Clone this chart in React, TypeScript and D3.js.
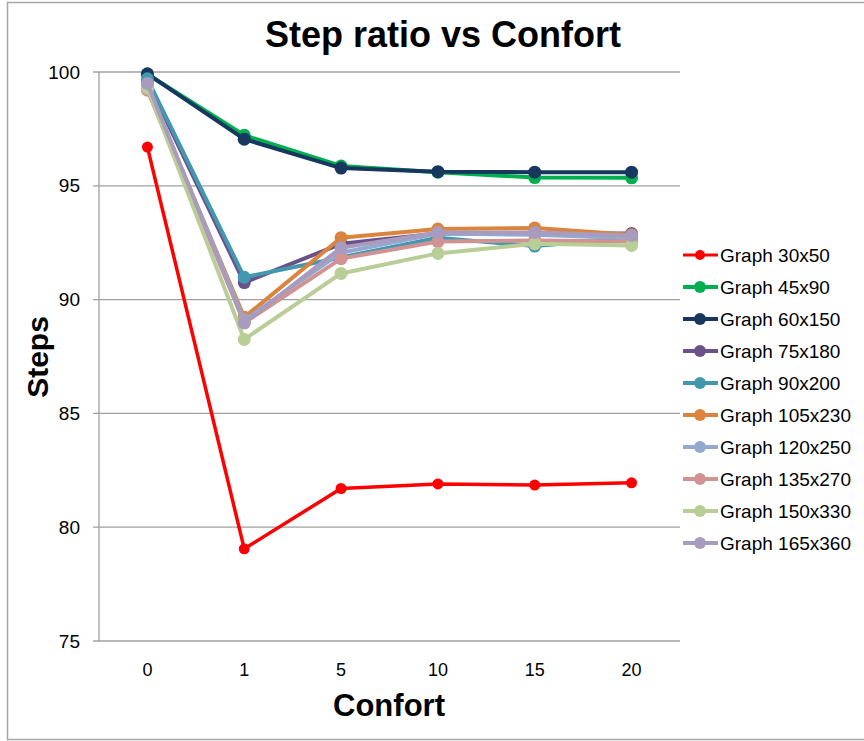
import React from "react";
import * as d3 from "d3";

const categories = ["0", "1", "5", "10", "15", "20"];
const seriesNames = [
  "Graph 30x50",
  "Graph 45x90",
  "Graph 60x150",
  "Graph 75x180",
  "Graph 90x200",
  "Graph 105x230",
  "Graph 120x250",
  "Graph 135x270",
  "Graph 150x330",
  "Graph 165x360",
];
const s30x50 = [96.7, 79.05, 81.7, 81.9, 81.85, 81.95];
const s45x90 = [99.9, 97.22, 95.87, 95.6, 95.36, 95.35];
const s60x150 = [99.92, 97.05, 95.78, 95.62, 95.6, 95.6];
const s75x180 = [99.6, 90.75, 92.45, 92.9, 92.9, 92.9];
const s90x200 = [99.7, 90.98, 91.85, 92.72, 92.35, 92.72];
const s105x230 = [99.3, 89.22, 92.72, 93.1, 93.15, 92.85];
const s120x250 = [99.4, 89.1, 92.06, 92.9, 92.85, 92.7];
const s135x270 = [99.2, 88.98, 91.8, 92.55, 92.6, 92.55];
const s150x330 = [99.3, 88.25, 91.15, 92.03, 92.45, 92.38];
const s165x360 = [99.5, 88.98, 92.28, 92.95, 92.95, 92.82];
const seriesValues = [s30x50, s45x90, s60x150, s75x180, s90x200, s105x230, s120x250, s135x270, s150x330, s165x360];
const colors = [
  "#FF0000",
  "#00B050",
  "#17375E",
  "#6A5189",
  "#4198AF",
  "#DB843D",
  "#93A9CF",
  "#D19392",
  "#B9CD96",
  "#A99BBD",
];
const yTicks = [75, 80, 85, 90, 95, 100];

const FONT = "'Liberation Sans', Arial, sans-serif";

export default function App() {
  const left = 99;
  const right = 680;
  const top = 72;
  const bottom = 641;
  const x = d3.scalePoint<string>().domain(categories).range([left, right]).padding(0.5);
  const y = d3.scaleLinear().domain([75, 100]).range([bottom, top]);
  const line = d3
    .line<number>()
    .x((_, i) => x(categories[i]) as number)
    .y((d) => y(d));

  return (
    <svg
      width={864}
      height={741}
      style={{ position: "absolute", left: 0, top: 0, background: "#fff" }}
      fontFamily={FONT}
    >
      <rect x={7.5} y={2.5} width={900} height={737} fill="#fff" stroke="#A6A6A6" strokeWidth={1.5} />
      <text x={443} y={47} textAnchor="middle" fontSize={36} fontWeight="bold" fill="#000">
        Step ratio vs Confort
      </text>
      {yTicks.map((t) => (
        <g key={t}>
          <line x1={left - 6} x2={right} y1={y(t)} y2={y(t)} stroke="#A0A0A0" strokeWidth={1.3} />
          <text x={80} y={y(t)} dy="0.35em" textAnchor="end" fontSize={19} fill="#000">
            {t}
          </text>
        </g>
      ))}
      <line x1={left} x2={left} y1={top} y2={bottom} stroke="#A0A0A0" strokeWidth={1.3} />
      {categories.map((c) => (
        <text key={c} x={x(c)} y={676} textAnchor="middle" fontSize={18} fill="#000">
          {c}
        </text>
      ))}
      <text x={389} y={716} textAnchor="middle" fontSize={31} fontWeight="bold" fill="#000">
        Confort
      </text>
      <text
        transform={`translate(48,357) rotate(-90)`}
        textAnchor="middle"
        fontSize={30}
        fontWeight="bold"
        fill="#000"
      >
        Steps
      </text>
      {seriesValues.map((vals, si) => (
        <g key={seriesNames[si]}>
          <path
            d={line(vals) || ""}
            fill="none"
            stroke={colors[si]}
            strokeWidth={si === 0 ? 3.5 : 4}
            strokeLinejoin="round"
          />
          {vals.map((v, i) => (
            <circle key={i} cx={x(categories[i])} cy={y(v)} r={si === 0 ? 5.5 : 6.5} fill={colors[si]} />
          ))}
        </g>
      ))}
      {seriesNames.map((n, i) => {
        const ly = 255 + i * 32;
        return (
          <g key={n}>
            <line x1={683} x2={718} y1={ly} y2={ly} stroke={colors[i]} strokeWidth={i === 0 ? 3 : 4} />
            <circle cx={700} cy={ly} r={i === 0 ? 5 : 6} fill={colors[i]} />
            <text x={720} y={ly} dy="0.35em" fontSize={19} fill="#000">
              {n}
            </text>
          </g>
        );
      })}
    </svg>
  );
}
